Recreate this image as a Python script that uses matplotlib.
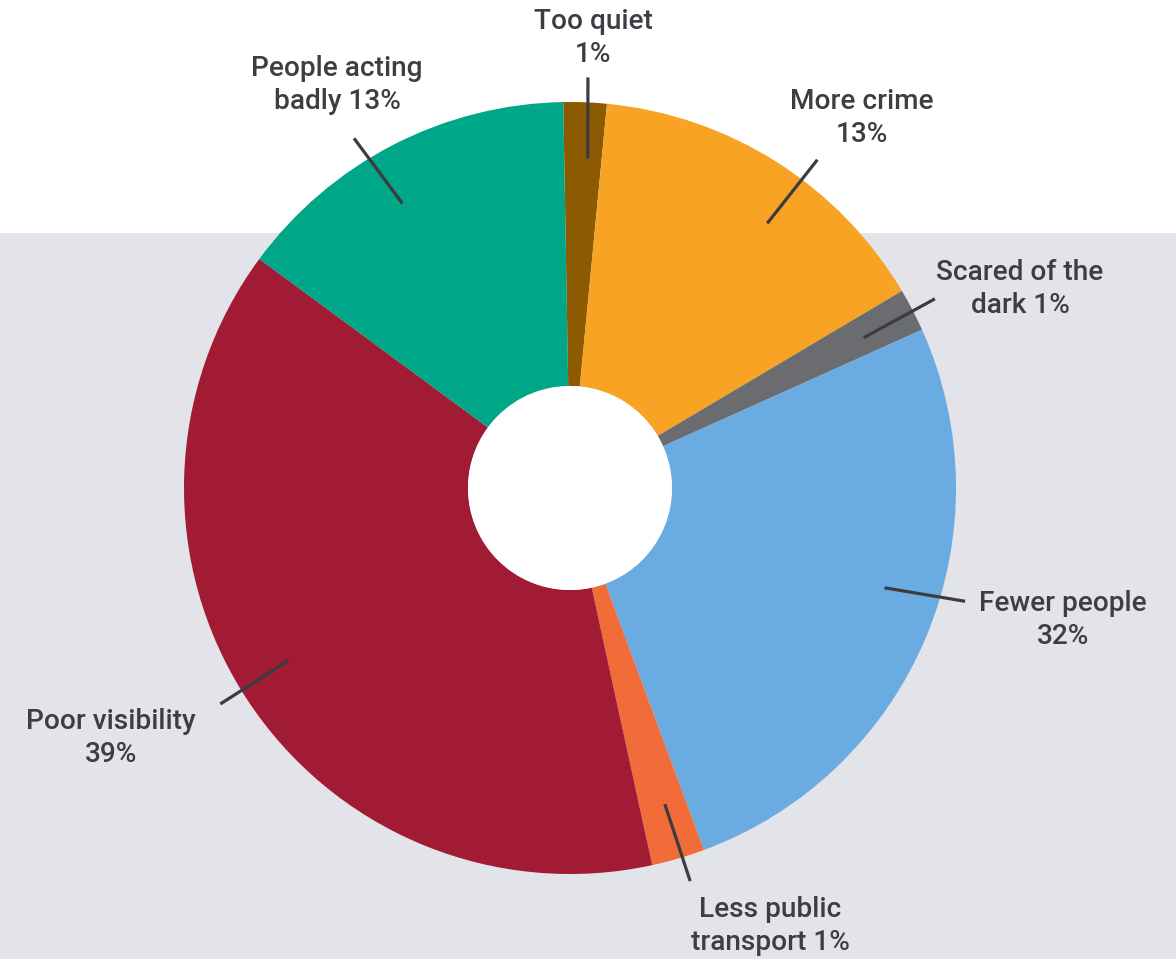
import numpy as np
import matplotlib
matplotlib.use("Agg")
import matplotlib.pyplot as plt
from matplotlib.patches import Circle, Rectangle

# slices, clockwise from the top
labels = ["Too quiet\n1%", "More crime\n13%", "Scared of the\ndark 1%",
          "Fewer people\n32%", "Less public\ntransport 1%",
          "Poor visibility\n39%", "People acting\nbadly 13%"]
# slice sizes as drawn in the picture (degrees of arc)
arc = [6.5, 53.8, 6.5, 93.9, 8.0, 138.7, 52.6]
colors = ["#8c5a00", "#f8a323", "#6b6c70", "#6aabe2",
          "#f26c3a", "#a21b35", "#00a688"]

# leader line angles (inner end, outer end) and label centres
line_in = [86.9, 53.3, 27.1, -17.6, -73.3, 211.5, 120.5]
line_out = [87.5, 53.0, 27.4, -16.0, -73.0, 211.7, 121.7]
label_xy = [(593, 38), (862, 118), (1020, 289), (1063, 620),
            (770, 926), (111, 738), (337, 85)]

W, H = 1176, 959
cx, cy = 570, H - 488
R, r_hole = 386, 102
r_in, r_out = 330, 411

fig = plt.figure(figsize=(W / 100, H / 100), dpi=100)
ax = fig.add_axes([0, 0, 1, 1])

ax.add_patch(Rectangle((0, 0), W, H - 233, color="#e3e4e9", zorder=0, lw=0))

ax.pie(arc, colors=colors, startangle=91, counterclock=False,
       radius=R, center=(cx, cy),
       wedgeprops=dict(width=R - r_hole, linewidth=0, zorder=1))
ax.add_patch(Circle((cx, cy), r_hole, color="white", zorder=2, lw=0))

for a0, a1, (tx, ty), lab in zip(line_in, line_out, label_xy, labels):
    t0, t1 = np.radians(a0), np.radians(a1)
    ax.plot([cx + r_in * np.cos(t0), cx + r_out * np.cos(t1)],
            [cy + r_in * np.sin(t0), cy + r_out * np.sin(t1)],
            color="#3b3c41", lw=2.3, solid_capstyle="butt", zorder=3)
    ax.text(tx, H - ty, lab, ha="center", va="center", multialignment="center",
            fontsize=20.2, family=["Roboto", "DejaVu Sans"], fontweight="medium",
            color="#3d3e44", linespacing=1.33, zorder=4)

ax.set_xlim(0, W)
ax.set_ylim(0, H)
ax.set_aspect("auto")
ax.axis("off")

fig.savefig("out.png", dpi=100, facecolor="white")
